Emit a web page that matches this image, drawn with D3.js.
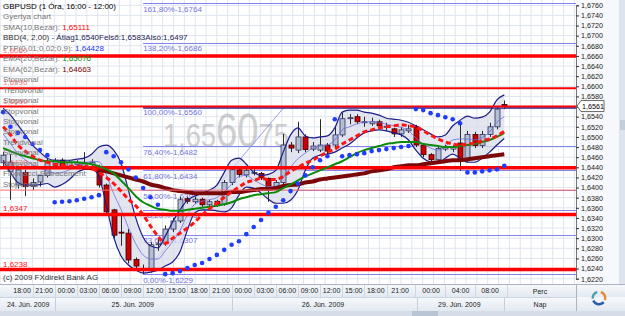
<!DOCTYPE html>
<html>
<head>
<meta charset="utf-8">
<script src="https://cdn.jsdelivr.net/npm/d3@7"></script>
<style>
  body { margin: 0; background: #fff; }
  svg { display: block; font-family: "Liberation Sans", Arial, sans-serif; }
</style>
</head>
<body>
<div id="chart"></div>
<script>
// ---- data (hourly candles, GBPUSD) ----
const opens  = [1.6449,1.6432,1.6405,1.6430,1.6402,1.6411,1.6424,1.6444,1.6454,1.6442,1.6445,1.6442,1.6446,1.6438,1.6405,1.6356,1.6312,1.6310,1.6258,1.6240,1.6240,1.6287,1.6290,1.6318,1.6334,1.6378,1.6372,1.6377,1.6366,1.6373,1.6367,1.6410,1.6435,1.6425,1.6428,1.6428,1.6418,1.6400,1.6410,1.6484,1.6474,1.6500,1.6476,1.6474,1.6484,1.6484,1.6504,1.6536,1.6540,1.6530,1.6526,1.6530,1.6520,1.6516,1.6506,1.6512,1.6520,1.6484,1.6465,1.6455,1.6476,1.6476,1.6488,1.6453,1.6505,1.6483,1.6505,1.6520,1.6564];
const closes = [1.6464,1.6450,1.6435,1.6402,1.6410,1.6424,1.6452,1.6454,1.6442,1.6450,1.6449,1.6450,1.6450,1.6405,1.6352,1.6306,1.6310,1.6257,1.6245,1.6239,1.6287,1.6289,1.6318,1.6334,1.6376,1.6373,1.6377,1.6366,1.6372,1.6366,1.6410,1.6435,1.6426,1.6434,1.6430,1.6419,1.6400,1.6410,1.6484,1.6478,1.6500,1.6475,1.6482,1.6484,1.6472,1.6504,1.6536,1.6538,1.6530,1.6530,1.6530,1.6522,1.6521,1.6506,1.6514,1.6516,1.6484,1.6465,1.6455,1.6477,1.6479,1.6480,1.6453,1.6505,1.6483,1.6505,1.6520,1.6555,1.6561];
const highs  = [1.6470,1.6466,1.6442,1.6435,1.6418,1.6425,1.6458,1.6458,1.6458,1.6454,1.6454,1.6470,1.6456,1.6445,1.6408,1.6358,1.6345,1.6318,1.6262,1.6248,1.6292,1.6298,1.6325,1.6340,1.6382,1.6382,1.6382,1.6380,1.6376,1.6376,1.6415,1.6440,1.6440,1.6440,1.6436,1.6431,1.6420,1.6415,1.6506,1.6490,1.6530,1.6505,1.6490,1.6535,1.6488,1.6520,1.6548,1.6545,1.6545,1.6540,1.6538,1.6534,1.6528,1.6518,1.6520,1.6524,1.6524,1.6486,1.6468,1.6480,1.6485,1.6484,1.6525,1.6512,1.6510,1.6512,1.6528,1.6560,1.6572];
const lows   = [1.6440,1.6376,1.6398,1.6383,1.6395,1.6402,1.6420,1.6440,1.6438,1.6438,1.6440,1.6438,1.6440,1.6400,1.6348,1.6300,1.6285,1.6250,1.6240,1.6229,1.6232,1.6275,1.6285,1.6312,1.6330,1.6368,1.6368,1.6362,1.6362,1.6362,1.6364,1.6405,1.6420,1.6420,1.6424,1.6415,1.6372,1.6395,1.6405,1.6470,1.6468,1.6470,1.6472,1.6470,1.6465,1.6480,1.6500,1.6525,1.6525,1.6520,1.6522,1.6518,1.6512,1.6500,1.6500,1.6508,1.6480,1.6460,1.6450,1.6450,1.6472,1.6470,1.6433,1.6450,1.6478,1.6478,1.6500,1.6515,1.6555];

const sma10  = [1.6520,1.6504,1.6484,1.6472,1.6462,1.6454,1.6450,1.6446,1.6444,1.6442,1.6442,1.6442,1.6438,1.6430,1.6420,1.6408,1.6393,1.6377,1.6364,1.6346,1.6324,1.6304,1.6290,1.6300,1.6310,1.6320,1.6332,1.6346,1.6358,1.6369,1.6381,1.6391,1.6401,1.6410,1.6414,1.6418,1.6416,1.6416,1.6422,1.6432,1.6440,1.6448,1.6454,1.6462,1.6470,1.6476,1.6486,1.6494,1.6502,1.6510,1.6514,1.6518,1.6520,1.6522,1.6524,1.6522,1.6520,1.6512,1.6504,1.6496,1.6490,1.6486,1.6484,1.6486,1.6488,1.6492,1.6496,1.6502,1.6511];
const ema20  = [1.6478,1.6472,1.6466,1.6462,1.6458,1.6454,1.6452,1.6452,1.6450,1.6450,1.6450,1.6448,1.6446,1.6442,1.6436,1.6428,1.6414,1.6399,1.6383,1.6371,1.6364,1.6358,1.6356,1.6354,1.6354,1.6356,1.6358,1.6360,1.6362,1.6364,1.6367,1.6371,1.6377,1.6381,1.6385,1.6387,1.6389,1.6391,1.6399,1.6406,1.6414,1.6422,1.6428,1.6434,1.6440,1.6446,1.6452,1.6460,1.6468,1.6474,1.6478,1.6482,1.6486,1.6488,1.6490,1.6490,1.6490,1.6486,1.6484,1.6482,1.6480,1.6480,1.6482,1.6484,1.6486,1.6490,1.6494,1.6500,1.6508];
// left part of EMA(62) sits under the 1,6439 stop line and is not visible
const ema62  = [null,null,null,null,null,null,null,null,null,null,null,1.6439,1.6438,1.6434,1.6432,1.6428,1.6424,1.6420,1.6416,1.6412,1.6406,1.6403,1.6399,1.6395,1.6393,1.6391,1.6389,1.6389,1.6389,1.6389,1.6389,1.6391,1.6391,1.6393,1.6395,1.6397,1.6397,1.6399,1.6403,1.6405,1.6406,1.6410,1.6412,1.6416,1.6418,1.6420,1.6422,1.6424,1.6426,1.6428,1.6432,1.6434,1.6436,1.6440,1.6442,1.6444,1.6444,1.6446,1.6448,1.6450,1.6452,1.6454,1.6454,1.6456,1.6458,1.6460,1.6462,1.6464,1.6466];
const ptp    = [1.6549,1.6520,1.6508,1.6500,1.6486,1.6474,1.6464,1.6371,1.6372,1.6373,1.6375,1.6378,1.6381,1.6385,1.6470,1.6462,1.6450,1.6436,1.6420,1.6399,1.6381,1.6366,1.6229,1.6231,1.6235,1.6241,1.6247,1.6251,1.6259,1.6267,1.6277,1.6287,1.6294,1.6308,1.6322,1.6336,1.6350,1.6362,1.6375,1.6393,1.6408,1.6424,1.6440,1.6454,1.6462,1.6535,1.6462,1.6464,1.6466,1.6468,1.6472,1.6474,1.6476,1.6478,1.6480,1.6482,1.6555,1.6553,1.6547,1.6543,1.6539,1.6535,1.6527,1.6430,1.6430,1.6432,1.6434,1.6436,1.6443];
const bbUpper = [1.6557,1.6543,1.6524,1.6504,1.6484,1.6470,1.6458,1.6454,1.6454,1.6454,1.6456,1.6458,1.6466,1.6480,1.6484,1.6474,1.6448,1.6395,1.6340,1.6302,1.6285,1.6281,1.6304,1.6332,1.6356,1.6375,1.6383,1.6389,1.6395,1.6405,1.6430,1.6454,1.6458,1.6446,1.6430,1.6424,1.6426,1.6434,1.6470,1.6504,1.6518,1.6502,1.6498,1.6500,1.6502,1.6518,1.6549,1.6553,1.6553,1.6549,1.6547,1.6543,1.6537,1.6535,1.6533,1.6529,1.6522,1.6514,1.6506,1.6500,1.6504,1.6522,1.6533,1.6541,1.6537,1.6539,1.6549,1.6573,1.6583];
const bbLower = [1.6454,1.6430,1.6410,1.6405,1.6405,1.6406,1.6408,1.6401,1.6406,1.6416,1.6430,1.6436,1.6438,1.6422,1.6366,1.6302,1.6265,1.6247,1.6237,1.6231,1.6233,1.6237,1.6245,1.6253,1.6273,1.6316,1.6350,1.6356,1.6356,1.6354,1.6352,1.6360,1.6385,1.6401,1.6399,1.6389,1.6377,1.6369,1.6369,1.6375,1.6395,1.6434,1.6458,1.6464,1.6466,1.6470,1.6478,1.6486,1.6498,1.6508,1.6512,1.6514,1.6512,1.6508,1.6504,1.6494,1.6474,1.6458,1.6450,1.6448,1.6458,1.6466,1.6458,1.6450,1.6450,1.6458,1.6470,1.6484,1.6497];
const bbMid   = [1.6506,1.6487,1.6467,1.6455,1.6445,1.6438,1.6433,1.6428,1.6430,1.6435,1.6443,1.6447,1.6452,1.6451,1.6425,1.6388,1.6357,1.6321,1.6289,1.6267,1.6259,1.6259,1.6275,1.6293,1.6315,1.6346,1.6367,1.6373,1.6376,1.6380,1.6391,1.6407,1.6422,1.6424,1.6415,1.6407,1.6402,1.6402,1.6420,1.6440,1.6457,1.6468,1.6478,1.6482,1.6484,1.6494,1.6514,1.6520,1.6526,1.6529,1.6530,1.6529,1.6525,1.6522,1.6519,1.6512,1.6498,1.6486,1.6478,1.6474,1.6481,1.6494,1.6496,1.6496,1.6494,1.6499,1.6510,1.6529,1.6540];

const stopLevels = [1.6660, 1.6596, 1.6560, 1.6439, 1.6395, 1.6347, 1.6238];
const stopWidths = [3.5, 2, 2, 3.5, 1, 3.5, 3.5];
const fibPct    = ["161,80%", "138,20%", "100,00%", "76,40%", "61,80%", "50,00%", "38,20%", "23,60%", "0,00%"];
const fibLevels = [1.6764, 1.6686, 1.6560, 1.6482, 1.6434, 1.6395, 1.6356, 1.6307, 1.6229];
const fibTrend  = [[19, 1.6229], [38.2, 1.6560]];

const timeLabels = ["18:00","21:00","00:00","03:00","06:00","09:00","12:00","15:00","18:00","21:00","00:00","03:00","06:00","09:00","12:00","15:00","18:00","21:00","00:00","04:00","08:00"];
const timePos    = [2.5,5.5,8.5,11.5,14.5,17.5,20.5,23.5,26.5,29.5,32.5,35.5,38.5,41.5,44.5,47.5,50.5,53.8,58,62,66];
const dayLabels  = ["24. Jún. 2009", "25. Jún. 2009", "26. Jún. 2009", "29. Jún. 2009"];
const dayFrom    = [-0.42, 7, 31, 56.2];
const dayTo      = [7, 31, 56.2, 68];
const dayCenter  = [3.4, 17.6, 43.4, 61.9];

const legendMain = [
  ["GBPUSD (1 Óra, 16:00 - 12:00)", "", "#000"],
  ["Gyertya chart", "", ""],
  ["SMA(10,Bezár): ", "1,65111", "#ff0000"],
  ["BBD(4, 2,00) - ", "Átlag1,6540Felső:1,6583Alsó:1,6497", "#1a1a50"],
  ["PTP(0,01;0,02;0,9): ", "1,64428", "#2233ff"],
  ["EMA(20,Bezár): ", "1,65076", "#0a8a0a"],
  ["EMA(62,Bezár): ", "1,64663", "#800000"]
];
const legendTools = ["Stopvonal","Trendvonal","Stopvonal","Stopvonal","Stopvonal","Stopvonal","Trendvonal","Stopvonal","Stopvonal","Fibonacci-Retracement","Stopvonal"];

// ---- layout ----
const W = 625, H = 316, plotR = 576, plotB = 284;
const loc = d3.formatLocale({decimal: ",", thousands: " ", grouping: [3], currency: ["", ""]});
const f4 = loc.format(".4f");

const svg = d3.select("#chart").append("svg").attr("width", W).attr("height", H);

const x = d3.scaleLinear().domain([0, 68]).range([3.1, 504.3]);
const y = d3.scaleLinear().domain([1.6220, 1.6760]).range([278.7, 5.3]);
const idx = d3.range(opens.length);

svg.append("rect").attr("width", W).attr("height", H).attr("fill", "#fff");

// grid
const grid = svg.append("g");
grid.selectAll("line.h").data(d3.range(1.6200, 1.6781, 0.002)).join("line")
  .attr("x1", 0).attr("x2", plotR).attr("y1", d => y(d)).attr("y2", d => y(d))
  .attr("stroke", "#dfe5ee").attr("stroke-width", 1);
grid.selectAll("line.v").data(d3.range(-0.4, 78, 1.47)).join("line")
  .attr("x1", d => x(d)).attr("x2", d => x(d)).attr("y1", 0).attr("y2", plotB)
  .attr("stroke", "#dfe5ee").attr("stroke-width", 1);

// watermark price
const wm = svg.append("text").attr("transform", "translate(163,147) scale(0.8,1)")
  .attr("fill", "#a0a0a0").attr("opacity", 0.5);
wm.append("tspan").attr("font-size", 34).text("1,65");
wm.append("tspan").attr("font-size", 48).text("60");
wm.append("tspan").attr("font-size", 34).text("75");

// fibonacci lines
const fibG = svg.append("g");
fibG.selectAll("line").data(fibLevels).join("line")
  .attr("x1", x(19)).attr("x2", plotR).attr("y1", d => Math.round(y(d)) + 0.5).attr("y2", d => Math.round(y(d)) + 0.5)
  .attr("stroke", "#8484ee").attr("stroke-width", 1);
fibG.selectAll("text").data(fibLevels).join("text")
  .attr("x", x(19)).attr("y", d => y(d) + 8.5).attr("font-size", 8).attr("fill", "#7272e0")
  .text((d, i) => fibPct[i] + "-" + f4(d));
fibG.append("line")
  .attr("x1", x(fibTrend[0][0])).attr("y1", y(fibTrend[0][1]))
  .attr("x2", x(fibTrend[1][0])).attr("y2", y(fibTrend[1][1]))
  .attr("stroke", "#8484ee").attr("stroke-width", 0.8);

// bollinger band
const area = d3.area().x(i => x(i)).y0(i => y(bbLower[i])).y1(i => y(bbUpper[i])).curve(d3.curveMonotoneX);
svg.append("path").datum(idx).attr("d", area).attr("fill", "#d9dcea").attr("opacity", 0.75);

// candles
const candles = svg.append("g");
candles.selectAll("line").data(idx).join("line")
  .attr("x1", i => Math.round(x(i)) + 0.5).attr("x2", i => Math.round(x(i)) + 0.5)
  .attr("y1", i => y(highs[i])).attr("y2", i => y(lows[i]))
  .attr("stroke", "#2a2a2a").attr("stroke-width", 1);
candles.selectAll("rect").data(idx).join("rect")
  .attr("x", i => Math.round(x(i)) - 2)
  .attr("y", i => y(Math.max(opens[i], closes[i])))
  .attr("width", 5)
  .attr("height", i => Math.max(1, y(Math.min(opens[i], closes[i])) - y(Math.max(opens[i], closes[i]))))
  .attr("fill", i => closes[i] >= opens[i] ? "#b3bfd4" : "#cc0000")
  .attr("stroke", i => closes[i] >= opens[i] ? "#30305a" : "#3a0000")
  .attr("stroke-width", 0.8);

// band lines
const line = arr => d3.line().defined(i => arr[i] != null).x(i => x(i)).y(i => y(arr[i])).curve(d3.curveMonotoneX)(idx);
svg.append("path").attr("d", line(bbUpper)).attr("fill", "none").attr("stroke", "#1c1c86").attr("stroke-width", 1.2);
svg.append("path").attr("d", line(bbLower)).attr("fill", "none").attr("stroke", "#1c1c86").attr("stroke-width", 1.2);
svg.append("path").attr("d", line(bbMid)).attr("fill", "none").attr("stroke", "#6c6cdc").attr("stroke-width", 0.8);

// EMA(62) lies under the stop lines
svg.append("path").attr("d", line(ema62)).attr("fill", "none").attr("stroke", "#7a0808").attr("stroke-width", 4);

// stop lines
svg.append("line").attr("x1", x(19)).attr("x2", plotR).attr("y1", y(1.6560) + 1.5).attr("y2", y(1.6560) + 1.5)
  .attr("stroke", "#20208a").attr("stroke-width", 1.2);
svg.append("g").selectAll("line").data(stopLevels).join("line")
  .attr("x1", 0).attr("x2", plotR).attr("y1", d => y(d)).attr("y2", d => y(d))
  .attr("stroke", (d, i) => stopWidths[i] < 1.5 ? "#ff7070" : "#ff0000")
  .attr("stroke-width", (d, i) => stopWidths[i]);
svg.append("g").selectAll("text").data(stopLevels).join("text")
  .attr("x", 3).attr("y", d => y(d) - 3).attr("font-size", 8)
  .attr("fill", "#ff2020").attr("opacity", (d, i) => i < 4 ? 0.55 : 1)
  .text((d, i) => stopWidths[i] < 1.5 ? "" : f4(d));

// moving averages
svg.append("path").attr("d", line(ema20)).attr("fill", "none").attr("stroke", "#0b8a0b").attr("stroke-width", 2);
svg.append("path").attr("d", line(sma10)).attr("fill", "none").attr("stroke", "#ff1414").attr("stroke-width", 3).attr("stroke-dasharray", "5,3");

// parabolic SAR
svg.append("g").selectAll("circle").data(idx).join("circle")
  .attr("cx", i => x(i)).attr("cy", i => y(ptp[i])).attr("r", 2.3).attr("fill", "#1f3cff");

// legend
const lg = svg.append("g").attr("font-size", 8);
legendMain.forEach((row, i) => {
  const t = lg.append("text").attr("x", 3).attr("y", 9 + i * 10.45);
  t.append("tspan").attr("fill", i === 0 ? "#000" : (i === 3 ? "#333" : "#777")).text(row[0]);
  if (row[1]) t.append("tspan").attr("fill", row[2]).text(row[1]);
});
legendTools.forEach((name, i) => {
  lg.append("text").attr("x", 3).attr("y", 9 + (i + 7) * 10.45).attr("fill", "#777").text(name);
});
svg.append("text").attr("x", 3).attr("y", 280).attr("font-size", 8).attr("fill", "#333").text("(c) 2009 FXdirekt Bank AG");

// right price axis
const panel = svg.append("g");
panel.append("rect").attr("x", plotR).attr("y", 0).attr("width", W - plotR).attr("height", plotB).attr("fill", "#f6f8fb");
panel.append("rect").attr("x", 619).attr("y", 0).attr("width", 6).attr("height", plotB).attr("fill", "#dde4ee");
panel.append("rect").attr("x", 620).attr("y", 120).attr("width", 5).attr("height", 10).attr("fill", "#c3cedb");
const yAxis = svg.append("g").attr("transform", `translate(${plotR},0)`)
  .call(d3.axisRight(y).tickValues(d3.range(1.6220, 1.6761, 0.002)).tickSize(3).tickPadding(2).tickFormat(f4));
yAxis.select(".domain").attr("stroke", "#777");
yAxis.selectAll(".tick line").attr("stroke", "#333");
yAxis.selectAll(".tick text").attr("font-size", 7.2).attr("fill", "#222").attr("font-family", "Liberation Sans, Arial, sans-serif");

// last price marker
const lastY = y(closes[closes.length - 1]);
svg.append("path")
  .attr("d", `M${plotR + 1},${lastY} L${plotR + 5},${lastY - 5.5} L${plotR + 28},${lastY - 5.5} L${plotR + 28},${lastY + 5.5} L${plotR + 5},${lastY + 5.5} Z`)
  .attr("fill", "#fff").attr("stroke", "#444").attr("stroke-width", 0.8);
svg.append("text").attr("x", plotR + 6).attr("y", lastY + 2.6).attr("font-size", 7.2).attr("fill", "#000")
  .text(f4(closes[closes.length - 1]));

// bottom time axis
const bottom = svg.append("g");
const grad = svg.append("defs").append("linearGradient").attr("id", "bg").attr("x1", 0).attr("x2", 0).attr("y1", 0).attr("y2", 1);
grad.append("stop").attr("offset", 0).attr("stop-color", "#f7f9fc");
grad.append("stop").attr("offset", 1).attr("stop-color", "#e3e9f1");
bottom.append("rect").attr("x", 0).attr("y", plotB).attr("width", W).attr("height", 13).attr("fill", "url(#bg)");
bottom.append("rect").attr("x", 0).attr("y", plotB + 13).attr("width", W).attr("height", 14).attr("fill", "url(#bg)");
bottom.append("rect").attr("x", 0).attr("y", 311).attr("width", W).attr("height", 5).attr("fill", "#d5dde8");
bottom.append("rect").attr("x", 412).attr("y", 311).attr("width", 26).attr("height", 5).attr("fill", "#b9c5d4");
bottom.append("line").attr("x1", 0).attr("x2", W).attr("y1", plotB + 0.5).attr("y2", plotB + 0.5).attr("stroke", "#aab4c2");
bottom.append("line").attr("x1", 0).attr("x2", plotR).attr("y1", plotB + 13.5).attr("y2", plotB + 13.5).attr("stroke", "#cdd5e0");
bottom.append("line").attr("x1", plotR + 0.5).attr("x2", plotR + 0.5).attr("y1", plotB).attr("y2", 311).attr("stroke", "#aab4c2");

const xAxis = svg.append("g").attr("transform", `translate(0,${plotB + 2})`)
  .call(d3.axisBottom(x).tickValues(timePos).tickSize(0).tickPadding(2).tickFormat((d, i) => timeLabels[i]));
xAxis.select(".domain").remove();
xAxis.selectAll(".tick text").attr("font-size", 7).attr("fill", "#222").attr("font-family", "Liberation Sans, Arial, sans-serif");

const seps = timePos.slice(1).map((p, i) => (p + timePos[i]) / 2);
bottom.selectAll("line.sep").data(seps.concat([68.3])).join("line")
  .attr("x1", d => Math.round(x(d)) + 0.5).attr("x2", d => Math.round(x(d)) + 0.5)
  .attr("y1", plotB + 1).attr("y2", plotB + 13).attr("stroke", "#d0d7e2");

const dayG = svg.append("g");
dayG.selectAll("line").data(dayTo).join("line")
  .attr("x1", d => Math.round(x(d)) + 0.5).attr("x2", d => Math.round(x(d)) + 0.5)
  .attr("y1", plotB + 14).attr("y2", 311).attr("stroke", "#c5cedb");
dayG.selectAll("text").data(dayLabels).join("text")
  .attr("x", (d, i) => x(dayCenter[i])).attr("y", 307)
  .attr("text-anchor", "middle").attr("font-size", 7).attr("fill", "#222").text(d => d);

svg.append("text").attr("x", 540).attr("y", 294).attr("text-anchor", "middle").attr("font-size", 7).attr("fill", "#222").text("Perc");
svg.append("text").attr("x", 540).attr("y", 307).attr("text-anchor", "middle").attr("font-size", 7).attr("fill", "#222").text("Nap");

// corner icon
const icon = svg.append("g").attr("transform", "translate(599,298)");
const arc = d3.arc().innerRadius(5).outerRadius(7.5);
[["#e08a3a", 0.3, 1.9], ["#2a5ca8", 2.3, 4.3], ["#4aa0b0", 4.6, 6.0]].forEach(s => {
  icon.append("path").attr("d", arc({startAngle: s[1], endAngle: s[2]})).attr("fill", s[0]);
});
</script>
</body>
</html>
